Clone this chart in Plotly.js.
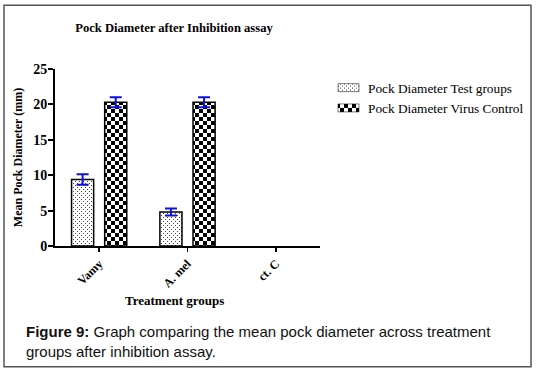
<!DOCTYPE html>
<html>
<head>
<meta charset="utf-8">
<script src="https://cdn.plot.ly/plotly-3.0.1.min.js"></script>
<style>
html,body{margin:0;padding:0;background:#fff;}
#chart{width:537px;height:373px;}
</style>
</head>
<body>
<div id="chart"></div>
<script>
// ---- data ----
var categories = ["Vamy", "A. mel", "ct. C"];
var testGroups = [9.4, 4.8, null];
var testErr = [0.75, 0.5, 0];
var virusControl = [20.3, 20.3, null];
var virusErr = [0.7, 0.7, 0];
var seriesNames = ["Pock Diameter Test groups", "Pock Diameter Virus Control"];
var yTicks = [0, 5, 10, 15, 20, 25];

var serif = "Liberation Serif, DejaVu Serif, serif";

// plot-area geometry (pixels) used to convert frame border into paper coords
var L = 55, R = 217, T = 68.5, B = 127, W = 537, H = 373;
var pw = W - L - R, ph = H - T - B;
function px(x){ return (x - L) / pw; }
function py(y){ return (H - B - y) / ph; }

var traces = [
  {
    type: "bar", name: seriesNames[0], x: categories, y: testGroups,
    marker: {color: "#ffffff", line: {color: "#000", width: 1.5},
             pattern: {shape: ".", fgcolor: "#333", bgcolor: "#fff", size: 4, solidity: 0.2}},
    error_y: {type: "data", array: testErr, visible: true, color: "#1010e0", thickness: 2, width: 6}
  },
  {
    type: "bar", name: seriesNames[1], x: categories, y: virusControl,
    marker: {color: "#ffffff", line: {color: "#000", width: 1.5},
             pattern: {shape: "+", fgcolor: "#000", bgcolor: "#fff", size: 8, solidity: 0.5}},
    error_y: {type: "data", array: virusErr, visible: true, color: "#1010e0", thickness: 2, width: 6}
  }
];

var layout = {
  width: W, height: H,
  margin: {l: L, r: R, t: T, b: B, pad: 0, autoexpand: false},
  paper_bgcolor: "#fff", plot_bgcolor: "#fff",
  barmode: "group", bargap: 0.25, bargroupgap: 0.333,
  showlegend: true,
  legend: {x: px(328), y: py(72), xanchor: "left", yanchor: "top",
           font: {family: serif, size: 13.3, color: "#000"}, bgcolor: "rgba(0,0,0,0)",
           tracegroupgap: 0, itemwidth: 30},
  title: {text: "<b>Pock Diameter after Inhibition assay</b>", x: 174 / W, xanchor: "center",
          y: 1 - 28 / H, yanchor: "middle", font: {family: serif, size: 12.6, color: "#000"}},
  xaxis: {
    type: "category", range: [-0.5, 2.5], showgrid: false, zeroline: false,
    showline: true, linecolor: "#000", linewidth: 2,
    ticks: "outside", ticklen: 4, tickwidth: 1.5, tickcolor: "#000",
    tickangle: -45, tickfont: {family: serif, size: 12, color: "#000", weight: "bold"}
  },
  yaxis: {
    range: [0, 25], tickvals: yTicks, showgrid: false, zeroline: false,
    showline: true, linecolor: "#000", linewidth: 2,
    ticks: "outside", ticklen: 5, tickwidth: 2, tickcolor: "#000", ticklabelstandoff: -2,
    tickfont: {family: serif, size: 14, color: "#000", weight: "bold"},
    title: {text: "<b>Mean Pock Diameter (mm)</b>", standoff: 8, font: {family: serif, size: 12, color: "#000"}}
  },
  annotations: [
    {text: "<b>Treatment groups</b>", xref: "paper", yref: "paper", x: px(174), y: py(301),
     xanchor: "center", yanchor: "middle", showarrow: false, font: {family: serif, size: 13, color: "#000"}},
    {text: "<b>Figure 9:</b> Graph comparing the mean pock diameter across treatment<br>groups after inhibition assay.",
     xref: "paper", yref: "paper", x: px(24), y: py(342), xanchor: "left", yanchor: "middle", align: "left",
     showarrow: false, font: {family: "Liberation Sans, Arial, sans-serif", size: 15, color: "#111"}}
  ],
  shapes: [
    {type: "rect", xref: "paper", yref: "paper", x0: px(4), x1: px(531), y0: py(4.5), y1: py(367),
     line: {color: "#555", width: 1.5}, fillcolor: "rgba(0,0,0,0)", layer: "below"}
  ]
};

Plotly.newPlot("chart", traces, layout, {displayModeBar: false, staticPlot: true}).then(function(gd){
  var svg = gd.querySelector(".main-svg");
  var defs = svg.querySelector("defs");
  var NS = "http://www.w3.org/2000/svg";
  function mk(tag, attrs){ var e = document.createElementNS(NS, tag); for (var k in attrs) e.setAttribute(k, attrs[k]); return e; }
  // checkerboard
  var chk = mk("pattern", {id: "chk", patternUnits: "userSpaceOnUse", width: 8, height: 8});
  chk.appendChild(mk("rect", {x: 0, y: 0, width: 8, height: 8, fill: "#fff"}));
  chk.appendChild(mk("rect", {x: 0, y: 0, width: 4, height: 4, fill: "#000"}));
  chk.appendChild(mk("rect", {x: 4, y: 4, width: 4, height: 4, fill: "#000"}));
  defs.appendChild(chk);
  // stipple
  var dot = mk("pattern", {id: "dot", patternUnits: "userSpaceOnUse", width: 4, height: 4});
  dot.appendChild(mk("rect", {x: 0, y: 0, width: 4, height: 4, fill: "#fff"}));
  dot.appendChild(mk("rect", {x: 0, y: 0, width: 1, height: 1, fill: "#444"}));
  dot.appendChild(mk("rect", {x: 2, y: 2, width: 1, height: 1, fill: "#444"}));
  defs.appendChild(dot);
  var fills = ["url(#dot)", "url(#chk)"];
  var barTraces = gd.querySelectorAll(".barlayer .trace");
  barTraces.forEach(function(t, i){
    t.querySelectorAll(".point path").forEach(function(p){ p.style.fill = fills[i]; });
  });
  var legTraces = gd.querySelectorAll(".legend .traces");
  legTraces.forEach(function(t, i){
    t.querySelectorAll(".legendpoints path").forEach(function(p){
      p.style.fill = fills[i];
      p.setAttribute("d", "M11,4H-10V-4H11Z");
      p.style.strokeWidth = "0.5px";
    });
  });
});
</script>
</body>
</html>
